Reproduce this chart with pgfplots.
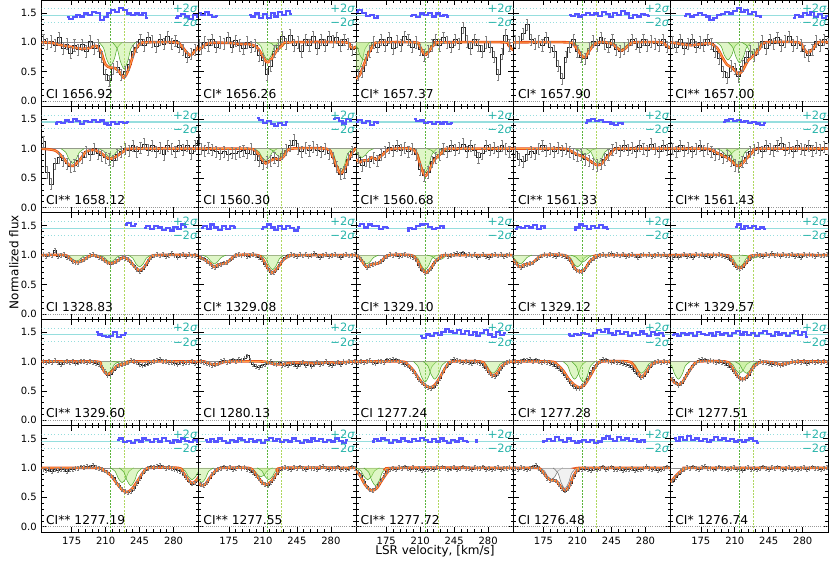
\documentclass[border=0pt]{standalone}
\usepackage{fontspec}
\setmainfont{DejaVu Sans}
\usepackage{pgfplots}
\usepackage{pgfplotstable}
\pgfplotsset{compat=1.18}

\definecolor{orgE}{RGB}{230,75,25}
\definecolor{orgC}{RGB}{255,160,70}
\definecolor{compF}{RGB}{185,235,130}
\definecolor{compD}{RGB}{80,170,45}
\definecolor{resb}{RGB}{85,85,255}
\definecolor{sigl}{RGB}{150,222,222}
\definecolor{sigt}{RGB}{40,180,170}
\definecolor{vgA}{RGB}{90,180,60}
\definecolor{vgB}{RGB}{175,215,95}

% error bars drawn as a plot mark (one short path per point)
\pgfdeclareplotmark{ebA}{%
  \pgfpathmoveto{\pgfqpoint{0pt}{-4.2pt}}\pgfpathlineto{\pgfqpoint{0pt}{4.2pt}}%
  \pgfpathmoveto{\pgfqpoint{-0.8pt}{4.2pt}}\pgfpathlineto{\pgfqpoint{0.8pt}{4.2pt}}%
  \pgfpathmoveto{\pgfqpoint{-0.8pt}{-4.2pt}}\pgfpathlineto{\pgfqpoint{0.8pt}{-4.2pt}}%
  \pgfusepathqstroke}
\pgfdeclareplotmark{ebB}{%
  \pgfpathmoveto{\pgfqpoint{0pt}{-1.4pt}}\pgfpathlineto{\pgfqpoint{0pt}{1.4pt}}%
  \pgfpathmoveto{\pgfqpoint{-0.7pt}{1.4pt}}\pgfpathlineto{\pgfqpoint{0.7pt}{1.4pt}}%
  \pgfpathmoveto{\pgfqpoint{-0.7pt}{-1.4pt}}\pgfpathlineto{\pgfqpoint{0.7pt}{-1.4pt}}%
  \pgfusepathqstroke}

\pgfplotsset{
  pan/.style={width=117.975pt, height=79.8pt, scale only axis, anchor=north west,
    xmin=144, xmax=306, ymin=-0.09, ymax=1.72,
    xtick={175,210,245,280}, ytick={0,0.5,1,1.5},
    minor x tick num=4, minor y tick num=4,
    tick align=inside, major tick length=4pt, minor tick length=2pt,
    every tick/.style={black, line width=0.45pt},
    xticklabels={}, yticklabels={},
    axis line style={line width=0.6pt},
    tick label style={font=\fontsize{7.5}{8}\selectfont},
    unbounded coords=jump},
  lft/.style={yticklabels={0.0,0.5,1.0,1.5}},
  bot/.style={xticklabels={175,210,245,280}},
}

\newcommand{\spc}[3]{%
  \addplot[only marks, mark=#3, mark options={black!50, line width=0.35pt}] table[x=v,y=#2] {#1};
  \addplot[const plot mark mid, black!85, line width=0.45pt] table[x=v,y=#2] {#1};}
\newcommand{\deco}{%
  \addplot[black!40, densely dotted, line width=0.6pt] coordinates {(140,0)(310,0)};
  \addplot[sigl, dotted, line width=0.5pt] coordinates {(140,1.57)(310,1.57)};
  \addplot[sigl, line width=0.8pt] coordinates {(140,1.455)(310,1.455)};
  \addplot[sigl, dotted, line width=0.5pt] coordinates {(140,1.34)(310,1.34)};
  \addplot[vgA, line width=0.45pt, dash pattern=on 1.5pt off 1pt] coordinates {(215,-0.2)(215,1.8)};
  \addplot[vgB, line width=0.45pt, dash pattern=on 1.5pt off 1pt] coordinates {(229,-0.2)(229,1.8)};
  \addplot[black!45, line width=0.6pt] coordinates {(140,1)(310,1)};
}
\newcommand{\comp}[1]{\addplot[draw=compD, fill=compF, fill opacity=0.45, line width=0.4pt, smooth] coordinates {#1};}
\newcommand{\gcomp}[1]{\addplot[draw=black!55, fill=black!12, fill opacity=0.45, line width=0.4pt, smooth] coordinates {#1};}
\newcommand{\mdl}[1]{\addplot[orgE, line width=1.9pt, smooth] coordinates {#1};
  \addplot[orgC, line width=0.7pt, smooth] coordinates {#1};}
\newcommand{\resid}[1]{\addplot[resb, line width=1.6pt, const plot mark mid] coordinates {#1};}
\newcommand{\lab}[1]{%
  \node[anchor=base west, font=\fontsize{9.2}{10}\selectfont, inner sep=0pt] at (axis cs:148.5,0.045) {#1};
  \node[anchor=east, text=sigt, font=\fontsize{8.6}{9}\selectfont, inner sep=0pt] at (axis cs:305,1.575) {+2\textit{σ}};
  \node[anchor=east, text=sigt, font=\fontsize{8.6}{9}\selectfont, inner sep=0pt] at (axis cs:305,1.335) {−2\textit{σ}};
}

\pgfplotstableread{
v    a     b     c     d     e
146 1.05 0.90 0.45 1.02 1.00
150 0.98 1.00 0.50 1.00 0.92
154 1.02 0.95 0.70 1.15 1.05
158 0.95 1.05 0.85 1.30 0.90
162 1.08 0.92 1.00 1.05 0.98
166 0.90 1.00 0.92 0.98 1.05
170 0.97 0.98 1.05 1.02 0.92
174 0.82 1.08 0.95 0.95 1.00
178 0.95 0.92 1.08 1.08 0.95
182 0.88 1.03 0.90 0.92 1.05
186 0.96 0.95 1.02 0.85 0.98
190 0.85 0.90 0.95 0.60 0.85
194 1.02 1.00 1.10 0.38 0.72
198 0.90 0.92 1.05 0.75 0.50
202 0.95 0.95 0.92 0.92 0.40
206 0.75 0.78 1.00 1.05 0.60
210 0.45 0.70 0.88 0.85 0.55
214 0.35 0.45 0.78 0.75 0.42
218 0.55 0.60 0.85 0.72 0.60
222 0.58 0.85 0.95 0.90 0.75
226 0.45 0.95 1.05 1.02 0.85
230 0.50 1.10 0.95 0.95 0.78
234 0.62 0.98 1.08 1.08 0.90
238 0.85 1.12 1.00 0.98 1.02
242 0.92 0.95 0.92 0.92 0.90
246 1.05 1.00 1.05 1.05 1.05
250 0.95 0.85 0.98 0.88 0.98
254 1.08 1.05 1.25 0.85 1.08
258 1.02 0.95 1.02 0.90 0.95
262 0.93 1.10 0.90 0.95 1.02
266 1.05 0.90 1.05 1.05 1.10
270 0.97 1.05 0.95 0.98 0.95
274 1.10 0.95 0.85 0.92 1.00
278 0.98 1.10 1.00 1.05 0.95
282 1.03 1.02 0.92 0.95 0.85
286 0.92 1.08 0.75 1.02 0.78
290 0.88 0.95 0.45 0.98 0.88
294 0.75 1.05 0.80 0.95 1.02
298 0.80 0.98 1.12 1.05 0.95
302 0.88 0.88 0.95 0.92 1.05
306 0.95 0.93 0.90 0.90 0.98
}\rA

\pgfplotstableread{
v    a     b     c     d     e
146 1.12 1.00 0.85 0.95 1.00
150 0.60 0.97 0.72 0.82 0.95
154 0.40 1.02 0.80 0.78 1.05
158 0.75 0.98 0.78 0.90 0.97
162 0.85 0.95 0.85 0.95 1.02
166 0.80 0.92 0.80 0.92 0.95
170 0.75 0.95 0.90 1.00 1.00
174 0.70 0.90 0.95 1.05 1.05
178 0.72 0.93 1.02 0.97 0.97
182 0.80 0.92 0.97 1.00 1.00
186 0.85 0.95 1.05 0.95 0.95
190 0.95 0.97 0.98 1.02 0.90
194 0.90 0.93 1.02 0.97 0.92
198 1.00 1.00 0.95 1.00 0.85
202 0.92 0.90 1.00 0.95 0.88
206 0.88 0.80 0.90 0.92 0.80
210 0.85 0.75 0.65 0.88 0.72
214 0.82 0.78 0.55 0.90 0.70
218 0.80 0.80 0.60 0.82 0.78
222 0.90 0.85 0.78 0.80 0.85
226 0.95 0.80 0.85 0.75 0.95
230 1.00 0.92 0.90 0.72 0.98
234 0.97 0.98 1.00 0.75 1.02
238 1.05 1.05 0.95 0.82 0.95
242 0.95 1.15 1.05 0.90 1.05
246 1.02 1.00 0.98 0.98 1.00
250 1.08 0.95 1.02 1.02 0.97
254 0.98 1.02 1.08 0.97 1.05
258 1.05 0.97 0.95 1.05 1.10
262 0.95 1.03 1.05 0.98 0.98
266 1.02 0.98 0.98 1.02 1.02
270 0.90 0.95 0.85 0.95 0.95
274 1.05 1.00 0.92 1.05 1.05
278 1.00 0.92 1.05 1.00 1.00
282 0.95 0.85 0.98 0.97 0.98
286 1.05 0.70 1.02 1.08 1.05
290 0.98 0.57 0.95 1.00 0.97
294 1.05 0.60 1.05 0.95 1.02
298 0.92 0.82 1.00 1.05 0.98
302 1.05 0.95 0.95 0.98 1.03
306 1.15 1.02 1.02 1.02 1.00
}\rB

\pgfplotstableread{
v a b c d e
146 1.01 0.96 0.98 0.88 0.97
149 0.98 0.94 0.93 0.82 1.00
152 1.02 0.90 0.86 0.80 0.96
155 0.99 0.86 0.80 0.83 0.99
158 1.08 0.81 0.83 0.85 1.02
161 0.98 0.80 0.85 0.86 0.98
164 1.00 0.83 0.86 0.87 1.00
167 1.02 0.85 0.87 0.92 0.97
170 0.97 0.87 0.90 0.96 1.01
173 0.94 0.88 0.95 0.99 0.99
176 0.90 0.92 0.98 1.01 1.02
179 0.88 0.96 1.01 0.99 0.98
182 0.87 1.00 0.99 1.02 1.00
185 0.91 1.02 1.02 1.00 0.97
188 0.93 0.99 0.98 0.98 1.01
191 0.96 1.01 1.00 1.01 0.99
194 1.00 0.98 1.01 0.99 1.02
197 1.02 1.00 0.99 0.98 1.00
200 0.99 1.02 0.98 0.95 0.98
203 0.97 0.99 0.96 0.90 0.96
206 0.95 0.97 0.92 0.80 0.92
209 0.91 0.93 0.83 0.74 0.85
212 0.87 0.85 0.75 0.72 0.80
215 0.85 0.77 0.70 0.73 0.77
218 0.87 0.71 0.72 0.77 0.80
221 0.90 0.70 0.78 0.85 0.86
224 0.93 0.76 0.86 0.91 0.92
227 0.96 0.84 0.92 0.95 0.97
230 0.95 0.91 0.96 0.98 0.99
233 0.93 0.96 0.99 1.00 1.02
236 0.88 0.99 1.01 1.02 1.00
239 0.82 1.01 0.98 0.99 0.98
242 0.76 1.00 1.00 1.01 1.01
245 0.73 0.98 1.02 1.03 0.99
248 0.76 1.02 1.03 1.00 1.03
251 0.82 0.99 1.01 1.02 1.00
254 0.90 1.01 1.04 0.99 1.02
257 0.96 0.98 1.00 1.01 0.98
260 0.99 1.00 1.02 0.98 1.01
263 1.02 1.03 0.99 1.00 0.99
266 0.99 0.99 1.01 1.02 1.00
269 1.01 0.97 0.97 0.99 1.02
272 0.98 1.00 0.99 0.97 0.98
275 1.00 1.02 1.01 1.00 1.00
278 1.03 0.98 0.98 1.02 0.97
281 0.99 1.00 0.96 0.99 1.01
284 0.97 1.01 1.00 1.01 0.99
287 1.00 0.99 1.02 0.98 1.02
290 1.02 0.97 0.99 1.00 1.00
293 0.98 1.00 1.01 1.02 0.98
296 1.01 1.02 0.98 0.99 1.01
299 0.99 0.99 1.00 1.01 0.99
302 1.00 1.00 1.02 0.98 1.00
305 0.98 1.01 0.99 1.00 1.02
}\rC

\pgfplotstableread{
v a b c d e
146 1.00 1.00 0.99 1.00 0.70
149 0.98 0.98 1.01 0.98 0.64
152 1.01 0.97 0.98 1.01 0.60
155 0.99 0.95 1.00 1.03 0.63
158 1.02 0.94 1.02 1.02 0.70
161 0.98 0.96 0.99 1.04 0.78
164 0.96 0.97 0.97 1.01 0.86
167 0.99 1.00 1.00 1.03 0.93
170 1.01 1.02 1.01 1.00 0.98
173 0.98 0.99 0.99 0.98 1.02
176 1.00 1.01 1.03 1.00 1.04
179 0.97 1.03 1.02 0.99 1.03
182 0.99 1.00 1.04 0.97 1.01
185 1.01 1.04 1.03 0.95 1.02
188 1.00 1.02 1.01 0.92 1.00
191 0.98 1.06 0.98 0.88 0.98
194 1.00 1.10 0.96 0.83 1.00
197 0.99 1.02 0.93 0.76 0.99
200 0.97 0.95 0.89 0.69 0.97
203 0.95 0.92 0.84 0.63 0.94
206 0.90 0.90 0.77 0.58 0.90
209 0.83 0.93 0.70 0.55 0.84
212 0.77 0.96 0.64 0.54 0.77
215 0.79 0.98 0.60 0.58 0.72
218 0.85 1.00 0.56 0.64 0.70
221 0.90 0.97 0.54 0.72 0.72
224 0.94 0.95 0.57 0.82 0.77
227 0.96 0.98 0.63 0.90 0.85
230 0.97 0.94 0.72 0.96 0.92
233 0.99 0.96 0.82 1.00 0.97
236 1.02 0.93 0.90 1.04 1.00
239 1.01 0.97 0.96 1.03 0.99
242 0.98 0.95 1.00 1.01 0.98
245 0.96 0.92 1.04 0.99 0.97
248 0.94 0.96 1.02 1.00 0.96
251 0.95 0.99 1.00 0.98 0.97
254 0.97 0.94 0.98 0.99 0.95
257 0.99 0.97 1.01 0.97 0.94
260 1.00 0.92 0.99 0.95 0.96
263 1.02 0.96 0.97 0.93 0.97
266 1.04 0.99 1.00 0.90 0.98
269 1.01 0.95 0.98 0.84 1.00
272 1.00 0.97 0.97 0.78 0.99
275 0.98 1.00 0.94 0.73 1.01
278 0.99 0.96 0.89 0.75 0.98
281 0.97 0.94 0.82 0.82 1.00
284 0.96 0.97 0.76 0.90 0.97
287 0.98 0.99 0.75 0.96 0.99
290 0.97 0.96 0.80 0.99 1.01
293 0.99 1.00 0.89 1.00 0.98
296 0.98 0.98 0.95 0.98 1.00
299 1.00 1.01 0.99 1.01 0.99
302 0.97 0.99 1.01 0.99 1.01
305 0.99 1.00 1.00 1.00 0.99
}\rD

\pgfplotstableread{
v a b c d e
146 0.97 0.72 0.93 1.00 0.78
149 0.96 0.70 0.87 0.98 0.84
152 0.98 0.75 0.77 1.01 0.90
155 0.95 0.83 0.68 0.99 0.95
158 0.97 0.90 0.63 0.97 0.98
161 0.96 0.95 0.62 1.00 1.01
164 0.98 0.98 0.65 1.02 0.99
167 0.97 1.00 0.72 1.04 1.02
170 0.95 1.02 0.80 1.00 1.00
173 0.97 0.99 0.88 0.95 0.98
176 0.98 1.01 0.94 0.89 1.01
179 0.99 0.98 0.98 0.83 1.03
182 1.00 1.00 1.00 0.79 0.99
185 1.02 1.02 0.98 0.80 1.00
188 1.01 0.99 1.01 0.78 0.97
191 1.03 1.01 0.99 0.72 1.00
194 1.02 0.98 1.02 0.65 1.02
197 1.04 0.96 1.00 0.61 0.99
200 1.01 0.93 0.98 0.65 1.00
203 1.00 0.88 1.01 0.74 0.97
206 0.98 0.82 0.97 0.86 0.99
209 0.96 0.76 0.99 0.94 1.01
212 0.93 0.72 0.96 0.98 0.98
215 0.88 0.71 0.98 0.97 1.00
218 0.84 0.75 0.97 1.00 0.96
221 0.76 0.82 1.00 0.98 0.99
224 0.70 0.90 0.98 0.96 1.01
227 0.64 0.96 1.01 0.99 0.98
230 0.60 0.99 0.99 0.97 1.00
233 0.58 1.01 1.02 1.00 0.97
236 0.60 1.00 1.00 1.02 0.99
239 0.66 0.98 0.97 0.98 1.02
242 0.74 1.01 0.99 0.99 1.00
245 0.83 0.99 1.01 1.02 0.98
248 0.91 1.02 0.98 0.98 1.01
251 0.96 1.00 1.00 0.97 0.99
254 0.99 0.98 1.02 0.99 1.02
257 1.02 1.01 0.99 0.96 1.00
260 1.01 0.99 1.00 0.98 0.97
263 1.03 1.00 0.98 0.97 0.99
266 1.05 0.98 1.01 0.99 1.01
269 1.02 1.01 0.99 0.96 0.98
272 1.00 1.03 1.00 0.98 1.00
275 1.01 1.00 1.02 0.97 0.97
278 0.99 0.98 0.98 0.99 0.99
281 0.98 1.00 1.00 1.03 1.01
284 0.96 0.99 0.97 1.00 0.98
287 0.94 1.02 0.99 0.97 1.00
290 0.90 0.98 1.01 0.99 1.02
293 0.84 1.00 0.98 0.96 0.99
296 0.78 0.97 1.00 0.98 1.00
299 0.73 1.00 0.99 1.00 0.97
302 0.75 1.02 1.01 1.02 1.00
305 0.80 1.00 0.98 0.99 1.01
}\rE

\begin{document}
\begin{tikzpicture}
\useasboundingbox (0,0) rectangle (622.5pt,420.75pt);

% ---------------- row 1
\begin{axis}[pan, lft, at={(31.125pt,420.75pt)}]
\deco
\spc{\rA}{a}{ebA}
\comp{(203,1)(208,0.9)(211,0.72)(215,0.6)(219,0.72)(222,0.9)(227,1)}
\comp{(217,1)(222,0.89)(225,0.69)(229,0.55)(233,0.69)(236,0.89)(241,1)}
\mdl{(144,1)(155,0.99)(165,0.95)(175,0.92)(185,0.89)(193,0.9)(200,0.94)(205,0.85)(210,0.62)(215,0.57)(220,0.56)(225,0.48)(229,0.40)(234,0.55)(240,0.85)(246,0.98)(252,1)(282,1)(287,0.96)(292,0.86)(297,0.78)(302,0.85)(306,0.93)}
\resid{(170,1.43)(174,1.40)(178,1.43)(182,1.46)(186,1.44)(190,1.49)(194,1.47)(198,1.52)(202,1.50)(206,1.38)(210,1.43)(214,1.50)(218,1.55)(222,1.52)(226,1.58)(230,1.55)(234,1.49)(238,1.46)(242,1.49)(246,1.46)(250,1.50)(254,1.42)(262,nan)(282,1.41)(286,1.45)(290,1.48)(294,1.44)(298,1.40)(302,1.46)(306,1.43)}
\lab{CI 1656.92}
\end{axis}

\begin{axis}[pan, at={(149.1pt,420.75pt)}]
\deco
\spc{\rA}{b}{ebA}
\comp{(203,1)(208,0.93)(211,0.79)(215,0.7)(219,0.79)(222,0.93)(227,1)}
\comp{(214,1)(219,0.98)(222,0.93)(226,0.9)(230,0.93)(233,0.98)(238,1)}
\mdl{(144,0.87)(150,0.95)(156,0.99)(175,0.99)(185,0.97)(195,0.97)(203,0.93)(208,0.82)(212,0.7)(215,0.66)(219,0.72)(224,0.85)(230,0.95)(236,1)(294,1)(299,0.94)(303,0.9)(306,0.93)}
\resid{(144,1.50)(148,1.46)(152,1.52)(156,1.47)(160,1.43)(164,1.45)(170,nan)(196,1.47)(200,1.44)(204,1.49)(208,1.42)(212,1.48)(216,1.42)(220,1.50)(224,1.44)(228,1.52)(232,1.46)(236,1.54)(240,1.48)}
\lab{CI* 1656.26}
\end{axis}

\begin{axis}[pan, at={(267.075pt,420.75pt)}]
\deco
\spc{\rA}{c}{ebA}
\comp{(134,1)(139,0.88)(142,0.66)(146,0.52)(150,0.66)(153,0.88)(158,1)}
\comp{(140,1)(145,0.92)(148,0.78)(152,0.7)(156,0.78)(159,0.92)(164,1)}
\comp{(203,1)(208,0.95)(211,0.86)(215,0.8)(219,0.86)(222,0.95)(227,1)}
\mdl{(144,0.38)(148,0.45)(152,0.62)(157,0.82)(162,0.95)(167,1)(205,1)(209,0.95)(212,0.85)(215,0.79)(218,0.82)(222,0.92)(227,0.99)(232,1)(296,1)(301,0.95)(304,0.89)(306,0.87)}
\resid{(144,1.52)(148,1.55)(152,1.50)(156,1.45)(160,1.47)(164,1.42)(168,1.45)(172,nan)(200,1.45)(204,1.47)(208,1.43)(212,1.49)(216,1.46)(220,1.50)(224,1.44)(228,1.49)(232,1.45)(236,1.47)(240,1.44)}
\lab{CI* 1657.37}
\end{axis}

\begin{axis}[pan, at={(385.05pt,420.75pt)}]
\deco
\spc{\rA}{d}{ebA}
\comp{(205,1)(210,0.94)(213,0.825)(217,0.75)(221,0.825)(224,0.94)(229,1)}
\comp{(243,1)(248,0.97)(251,0.92)(255,0.88)(259,0.92)(262,0.97)(267,1)}
\mdl{(144,1)(200,1)(206,0.96)(211,0.85)(215,0.76)(218,0.75)(222,0.85)(227,0.96)(232,1)(240,1)(246,0.97)(251,0.9)(255,0.86)(259,0.89)(264,0.97)(269,1)(296,1)(301,0.95)(306,0.9)}
\resid{(201,1.47)(205,1.45)(209,1.48)(213,1.44)(217,1.47)(221,1.50)(225,1.46)(229,1.49)(233,1.45)(237,1.52)(241,1.48)(245,1.43)(249,1.50)(253,1.46)(257,1.53)(261,1.49)(265,1.42)(269,1.47)(273,1.44)(277,1.48)(281,1.46)(285,1.45)}
\lab{CI* 1657.90}
\end{axis}

\begin{axis}[pan, at={(503.025pt,420.75pt)}]
\deco
\spc{\rA}{e}{ebA}
\comp{(191,1)(196,0.93)(199,0.79)(203,0.7)(207,0.79)(210,0.93)(215,1)}
\comp{(203,1)(208,0.91)(211,0.76)(215,0.65)(219,0.76)(222,0.91)(227,1)}
\comp{(217,1)(222,0.95)(225,0.86)(229,0.8)(233,0.86)(236,0.95)(241,1)}
\mdl{(144,1)(155,0.97)(165,0.95)(175,0.97)(185,0.98)(192,0.9)(197,0.75)(202,0.62)(207,0.57)(211,0.5)(214,0.46)(218,0.52)(224,0.7)(230,0.78)(236,0.9)(242,1)(275,1)(280,0.92)(285,0.82)(290,0.88)(296,1)(306,1)}
\resid{(158,1.45)(162,1.48)(166,1.44)(170,1.46)(174,1.50)(178,1.47)(182,1.44)(186,1.38)(190,1.42)(194,1.46)(198,1.48)(202,1.51)(206,1.49)(210,1.54)(214,1.58)(218,1.52)(222,1.55)(226,1.48)(230,1.52)(234,1.45)(238,1.44)(250,nan)(270,1.42)(274,1.46)(278,1.44)(282,1.50)(286,1.47)(290,1.51)(294,1.43)(298,1.48)(302,1.42)(306,1.45)}
\lab{CI** 1657.00}
\end{axis}

% ---------------- row 2
\begin{axis}[pan, lft, at={(31.125pt,340.95pt)}]
\deco
\spc{\rB}{a}{ebA}
\comp{(164,1)(169,0.94)(172,0.83)(176,0.75)(180,0.83)(183,0.94)(188,1)}
\comp{(203,1)(208,0.96)(211,0.9)(215,0.85)(219,0.9)(222,0.96)(227,1)}
\mdl{(144,1)(158,0.97)(166,0.85)(172,0.73)(177,0.71)(183,0.8)(190,0.95)(198,0.98)(205,0.93)(211,0.85)(216,0.83)(222,0.88)(230,0.97)(237,1)(306,1)}
\resid{(158,1.43)(162,1.46)(166,1.44)(170,1.48)(174,1.45)(178,1.50)(182,1.47)(186,1.42)(190,1.47)(194,1.45)(198,1.49)(202,1.46)(206,1.48)(210,1.43)(214,1.40)(218,1.46)(222,1.42)(226,1.45)(230,1.44)(234,1.45)}
\lab{CI** 1658.12}
\end{axis}

\begin{axis}[pan, at={(149.1pt,340.95pt)}]
\deco
\spc{\rB}{b}{ebA}
\comp{(201,1)(206,0.95)(209,0.86)(213,0.8)(217,0.86)(220,0.95)(225,1)}
\comp{(216,1)(221,0.96)(224,0.9)(228,0.85)(232,0.9)(235,0.96)(240,1)}
\comp{(278,1)(283,0.9)(286,0.72)(290,0.6)(294,0.72)(297,0.9)(302,1)}
\mdl{(144,1)(195,1)(203,0.95)(209,0.82)(213,0.75)(218,0.8)(223,0.83)(228,0.82)(233,0.9)(239,1)(275,1)(281,0.9)(286,0.7)(290,0.58)(294,0.65)(299,0.85)(304,0.98)(306,1)}
\resid{(204,1.52)(208,1.49)(212,1.44)(216,1.47)(220,1.42)(224,1.38)(228,1.44)(232,1.40)(236,1.45)(250,nan)(282,1.50)(286,1.52)(290,1.47)(294,1.43)(298,1.50)(302,1.48)}
\lab{CI 1560.30}
\end{axis}

\begin{axis}[pan, at={(267.075pt,340.95pt)}]
\deco
\spc{\rB}{c}{ebA}
\comp{(138,1)(143,0.96)(146,0.9)(150,0.85)(154,0.9)(157,0.96)(162,1)}
\comp{(203,1)(208,0.9)(211,0.72)(215,0.6)(219,0.72)(222,0.9)(227,1)}
\comp{(217,1)(222,0.97)(225,0.92)(229,0.88)(233,0.92)(236,0.97)(241,1)}
\mdl{(144,0.82)(148,0.77)(152,0.8)(156,0.8)(160,0.85)(165,0.82)(170,0.88)(176,0.97)(182,1)(200,1)(206,0.93)(211,0.68)(215,0.54)(219,0.62)(224,0.8)(229,0.88)(234,0.96)(240,1)(306,1)}
\resid{(144,1.46)(148,1.49)(152,1.44)(156,1.47)(160,1.41)(164,1.45)(168,1.44)(180,nan)(204,1.50)(208,1.47)(212,1.48)(216,1.44)(220,1.46)(224,1.42)(228,1.45)(232,1.43)(236,1.46)(240,1.42)(244,1.44)}
\lab{CI* 1560.68}
\end{axis}

\begin{axis}[pan, at={(385.05pt,340.95pt)}]
\deco
\spc{\rB}{d}{ebA}
\comp{(206,1)(211,0.98)(214,0.93)(218,0.9)(222,0.93)(225,0.98)(230,1)}
\comp{(219,1)(224,0.94)(227,0.83)(231,0.75)(235,0.83)(238,0.94)(243,1)}
\mdl{(144,1)(195,1)(202,0.97)(210,0.9)(218,0.85)(224,0.78)(230,0.72)(234,0.73)(240,0.85)(246,0.95)(252,1)(306,1)}
\resid{(218,1.44)(222,1.48)(226,1.51)(230,1.47)(234,1.49)(238,1.45)(242,1.46)(246,1.43)(250,1.41)(254,1.44)(258,1.43)}
\lab{CI** 1561.33}
\end{axis}

\begin{axis}[pan, at={(503.025pt,340.95pt)}]
\deco
\spc{\rB}{e}{ebA}
\comp{(191,1)(196,0.97)(199,0.92)(203,0.88)(207,0.92)(210,0.97)(215,1)}
\comp{(201,1)(206,0.93)(209,0.8)(213,0.72)(217,0.8)(220,0.93)(225,1)}
\mdl{(144,1)(180,1)(187,0.97)(195,0.9)(203,0.84)(208,0.77)(212,0.71)(216,0.72)(222,0.83)(229,0.95)(236,1)(306,1)}
\resid{(198,1.45)(202,1.48)(206,1.50)(210,1.47)(214,1.49)(218,1.45)(222,1.47)(226,1.44)(230,1.46)(234,1.43)(238,1.41)(242,1.44)}
\lab{CI** 1561.43}
\end{axis}

% ---------------- row 3
\begin{axis}[pan, lft, at={(31.125pt,261.15pt)}]
\deco
\spc{\rC}{a}{ebB}
\comp{(168,1)(173,0.98)(176,0.93)(180,0.9)(184,0.93)(187,0.98)(192,1)}
\comp{(203,1)(208,0.97)(211,0.92)(215,0.88)(219,0.92)(222,0.97)(227,1)}
\comp{(233,1)(238,0.95)(241,0.86)(245,0.8)(249,0.86)(252,0.95)(257,1)}
\mdl{(144,1)(168,1)(174,0.93)(180,0.88)(186,0.9)(192,0.97)(198,1)(205,0.96)(211,0.88)(216,0.86)(222,0.9)(228,0.96)(234,0.92)(240,0.8)(245,0.74)(250,0.8)(256,0.95)(262,1)(306,1)}
\resid{(230,1.52)(234,1.55)(238,1.50)(242,1.53)(246,nan)(250,1.46)(254,1.49)(258,1.45)(262,1.50)(266,1.47)(270,1.43)(274,1.46)(278,1.42)(282,1.48)(286,1.44)(290,1.52)(294,1.48)}
\lab{CI 1328.83}
\end{axis}

\begin{axis}[pan, at={(149.1pt,261.15pt)}]
\deco
\spc{\rC}{b}{ebB}
\comp{(148,1)(153,0.96)(156,0.9)(160,0.85)(164,0.9)(167,0.96)(172,1)}
\comp{(208,1)(213,0.94)(216,0.83)(220,0.75)(224,0.83)(227,0.94)(232,1)}
\mdl{(144,0.97)(152,0.9)(157,0.84)(160,0.8)(164,0.84)(168,0.85)(172,0.86)(177,0.93)(183,1)(204,1)(210,0.93)(215,0.78)(220,0.7)(225,0.78)(231,0.92)(237,0.98)(242,1)(306,1)}
\resid{(146,1.46)(150,1.50)(154,1.44)(158,1.52)(162,1.47)(166,1.43)(170,1.49)(174,1.45)(178,1.50)(182,1.47)(190,nan)(208,1.44)(212,1.48)(216,1.52)(220,1.47)(224,1.43)(228,1.49)(232,1.45)(236,1.50)(240,1.46)(244,1.42)(248,1.47)}
\lab{CI* 1329.08}
\end{axis}

\begin{axis}[pan, at={(267.075pt,261.15pt)}]
\deco
\spc{\rC}{c}{ebB}
\comp{(143,1)(148,0.96)(151,0.9)(155,0.85)(159,0.9)(162,0.96)(167,1)}
\comp{(203,1)(208,0.94)(211,0.83)(215,0.75)(219,0.83)(222,0.94)(227,1)}
\comp{(217,1)(222,0.98)(225,0.94)(229,0.92)(233,0.94)(236,0.98)(241,1)}
\mdl{(144,1)(148,0.95)(152,0.85)(155,0.8)(159,0.84)(163,0.85)(167,0.86)(172,0.93)(178,1)(200,1)(206,0.93)(211,0.78)(216,0.7)(221,0.78)(227,0.92)(233,0.98)(238,1)(306,1)}
\resid{(146,1.50)(150,1.53)(154,1.47)(158,1.52)(162,1.49)(166,1.50)(170,1.44)(174,1.48)(178,1.46)(186,nan)(196,1.42)(200,1.46)(204,1.45)(208,1.50)(212,1.52)(216,1.53)(220,1.48)(224,1.44)(228,1.46)(232,1.50)(236,1.47)}
\lab{CI* 1329.10}
\end{axis}

\begin{axis}[pan, at={(385.05pt,261.15pt)}]
\deco
\spc{\rC}{d}{ebB}
\comp{(139,1)(144,0.96)(147,0.9)(151,0.85)(155,0.9)(158,0.96)(163,1)}
\comp{(198,1)(203,0.95)(206,0.86)(210,0.8)(214,0.86)(217,0.95)(222,1)}
\comp{(203,1)(208,0.97)(211,0.92)(215,0.88)(219,0.92)(222,0.97)(227,1)}
\mdl{(144,0.92)(148,0.84)(151,0.8)(155,0.84)(159,0.85)(163,0.86)(168,0.93)(174,1)(196,1)(202,0.93)(207,0.78)(212,0.72)(217,0.75)(223,0.9)(229,0.97)(234,1)(306,1)}
\resid{(146,1.44)(150,1.48)(154,1.46)(158,1.50)(162,1.47)(166,1.51)(170,1.45)(174,1.49)(178,1.46)(190,nan)(206,1.43)(210,1.47)(214,1.52)(218,1.49)(222,1.45)(226,1.50)(230,1.46)(234,1.51)(238,1.47)(242,1.44)}
\lab{CI* 1329.12}
\end{axis}

\begin{axis}[pan, at={(503.025pt,261.15pt)}]
\deco
\spc{\rC}{e}{ebB}
\comp{(203,1)(208,0.95)(211,0.86)(215,0.8)(219,0.86)(222,0.95)(227,1)}
\comp{(217,1)(222,0.99)(225,0.965)(229,0.95)(233,0.965)(236,0.99)(241,1)}
\mdl{(144,1)(200,1)(206,0.93)(211,0.82)(215,0.78)(219,0.82)(225,0.93)(232,1)(306,1)}
\resid{(210,1.48)(214,1.52)(218,1.45)(222,1.49)(226,1.46)(230,1.50)(234,1.44)(238,1.47)(242,1.45)}
\lab{CI** 1329.57}
\end{axis}

% ---------------- row 4
\begin{axis}[pan, lft, at={(31.125pt,181.35pt)}]
\deco
\spc{\rD}{a}{ebB}
\comp{(200,1)(205,0.95)(208,0.86)(212,0.8)(216,0.86)(219,0.95)(224,1)}
\comp{(217,1)(222,0.99)(225,0.965)(229,0.95)(233,0.965)(236,0.99)(241,1)}
\mdl{(144,1)(200,1)(205,0.93)(209,0.82)(212,0.78)(216,0.82)(222,0.93)(228,0.95)(233,0.98)(238,1)(306,1)}
\resid{(200,1.50)(204,1.46)(208,1.44)(212,1.42)(216,1.43)(220,1.50)(224,1.42)(228,1.45)(232,1.49)}
\lab{CI** 1329.60}
\end{axis}

\begin{axis}[pan, at={(149.1pt,181.35pt)}]
\deco
\spc{\rD}{b}{ebB}
\comp{(203,1)(208,0.99)(211,0.98)(215,0.97)(219,0.98)(222,0.99)(227,1)}
\mdl{(144,1)(150,1)(156,0.96)(162,0.95)(168,0.98)(175,1)(210,1)(218,0.97)(226,0.95)(233,0.96)(240,0.98)(250,0.98)(262,0.97)(275,0.98)(290,0.98)(300,1)(306,1)}
\lab{CI 1280.13}
\end{axis}

\begin{axis}[pan, at={(267.075pt,181.35pt)}]
\deco
\spc{\rD}{c}{ebB}
\comp{(203,1)(208,0.91)(211,0.755)(215,0.65)(219,0.755)(222,0.91)(227,1)}
\comp{(213,1)(218,0.925)(221,0.79)(225,0.7)(229,0.79)(232,0.925)(237,1)}
\comp{(273,1)(278,0.95)(281,0.86)(285,0.8)(289,0.86)(292,0.95)(297,1)}
\mdl{(144,1)(190,1)(197,0.95)(203,0.85)(209,0.7)(215,0.6)(220,0.56)(225,0.6)(231,0.75)(237,0.92)(243,1)(272,1)(277,0.93)(282,0.8)(285,0.76)(289,0.8)(294,0.92)(300,0.99)(306,1)}
\resid{(210,1.43)(214,1.40)(218,1.46)(222,1.44)(226,1.48)(230,1.45)(234,1.50)(238,1.55)(242,1.51)(246,1.49)(250,1.53)(254,1.47)(258,1.52)(262,1.45)(266,1.50)(270,1.44)(274,1.48)(278,1.53)(282,1.46)(286,1.42)(290,1.50)(294,1.45)(298,1.49)}
\lab{CI 1277.24}
\end{axis}

\begin{axis}[pan, at={(385.05pt,181.35pt)}]
\deco
\spc{\rD}{d}{ebB}
\comp{(195,1)(200,0.925)(203,0.79)(207,0.7)(211,0.79)(214,0.925)(219,1)}
\comp{(204,1)(209,0.91)(212,0.755)(216,0.65)(220,0.755)(223,0.91)(228,1)}
\comp{(264,1)(269,0.95)(272,0.86)(276,0.8)(280,0.86)(283,0.95)(288,1)}
\mdl{(144,1)(182,1)(189,0.95)(195,0.85)(201,0.7)(207,0.6)(212,0.56)(217,0.6)(223,0.75)(229,0.92)(235,1)(262,1)(268,0.93)(273,0.8)(276,0.74)(280,0.8)(285,0.92)(291,0.99)(306,1)}
\resid{(200,1.46)(204,1.43)(208,1.47)(212,1.45)(216,1.49)(220,1.47)(224,1.44)(228,1.48)(232,1.53)(236,1.50)(240,1.55)(244,1.48)(248,1.45)(252,1.52)(256,1.47)(260,1.50)(264,1.44)(268,1.49)(272,1.45)(276,1.51)(280,1.47)(284,1.43)(288,1.50)(292,1.46)(296,1.49)(300,1.44)}
\lab{CI* 1277.28}
\end{axis}

\begin{axis}[pan, at={(503.025pt,181.35pt)}]
\deco
\spc{\rD}{e}{ebB}
\comp{(140,1)(145,0.925)(148,0.79)(152,0.7)(156,0.79)(159,0.925)(164,1)}
\comp{(203,1)(208,0.95)(211,0.86)(215,0.8)(219,0.86)(222,0.95)(227,1)}
\comp{(210,1)(215,0.95)(218,0.86)(222,0.8)(226,0.86)(229,0.95)(234,1)}
\mdl{(144,0.72)(148,0.64)(152,0.61)(156,0.65)(161,0.78)(167,0.93)(173,1)(200,1)(206,0.93)(211,0.8)(215,0.72)(219,0.7)(224,0.77)(229,0.9)(235,0.98)(240,1)(250,0.98)(258,0.95)(266,0.98)(275,1)(306,1)}
\resid{(145,1.45)(149,1.47)(153,1.44)(157,1.49)(161,1.46)(165,1.48)(169,1.44)(173,1.50)(177,1.47)(181,1.45)(185,1.48)(189,1.44)(193,1.50)(197,1.46)(201,1.49)(205,1.44)(209,1.48)(213,1.52)(217,1.46)(221,1.50)(225,1.45)(229,1.49)(233,1.44)(237,1.48)(241,1.52)(245,1.47)(249,1.43)(253,1.50)(257,1.46)(261,1.49)(265,1.44)(269,1.48)(273,1.52)(277,1.45)(281,1.50)(285,1.42)}
\lab{CI* 1277.51}
\end{axis}

% ---------------- row 5
\begin{axis}[pan, lft, bot, at={(31.125pt,101.55pt)}]
\deco
\spc{\rE}{a}{ebB}
\comp{(215,1)(220,0.94)(223,0.825)(227,0.75)(231,0.825)(234,0.94)(239,1)}
\comp{(224,1)(229,0.925)(232,0.79)(236,0.7)(240,0.79)(243,0.925)(248,1)}
\comp{(287,1)(292,0.95)(295,0.86)(299,0.8)(303,0.86)(306,0.95)(311,1)}
\mdl{(144,1)(200,1)(208,0.96)(215,0.88)(221,0.75)(227,0.63)(232,0.59)(237,0.64)(243,0.78)(249,0.93)(255,1)(285,1)(290,0.92)(295,0.8)(299,0.74)(303,0.78)(306,0.85)}
\resid{(222,1.47)(226,1.50)(230,1.44)(234,1.46)(238,1.43)(242,1.48)(246,1.45)(250,1.50)(254,1.47)(258,1.44)(262,1.49)(266,1.45)(270,1.51)(274,1.46)(278,1.43)(282,1.48)(286,1.45)(290,1.50)(294,1.46)(298,1.44)(302,1.47)(306,1.45)}
\lab{CI** 1277.19}
\end{axis}

\begin{axis}[pan, bot, at={(149.1pt,101.55pt)}]
\deco
\spc{\rE}{b}{ebB}
\comp{(135,1)(140,0.94)(143,0.825)(147,0.75)(151,0.825)(154,0.94)(159,1)}
\comp{(196,1)(201,0.96)(204,0.895)(208,0.85)(212,0.895)(215,0.96)(220,1)}
\comp{(204,1)(209,0.95)(212,0.86)(216,0.8)(220,0.86)(223,0.95)(228,1)}
\mdl{(144,0.74)(147,0.7)(151,0.73)(156,0.85)(162,0.96)(168,1)(195,1)(201,0.93)(206,0.82)(210,0.74)(214,0.72)(219,0.78)(225,0.92)(231,1)(306,1)}
\resid{(150,1.47)(154,1.44)(158,1.49)(162,1.45)(166,1.50)(170,1.46)(174,1.43)(178,1.48)(182,1.45)(186,1.50)(190,1.47)(194,1.44)(198,1.49)(202,1.45)(206,1.48)(210,1.43)(214,1.47)(218,1.51)(222,1.46)(226,1.49)(230,1.44)(234,1.48)(238,1.45)(242,1.50)(246,1.46)(250,1.43)(254,1.48)(258,1.45)(262,1.50)(266,1.46)(270,1.49)(274,1.44)(278,1.48)(282,1.45)(286,1.50)(290,1.46)(294,1.43)(298,1.47)}
\lab{CI** 1277.55}
\end{axis}

\begin{axis}[pan, bot, at={(267.075pt,101.55pt)}]
\deco
\spc{\rE}{c}{ebB}
\comp{(144,1)(149,0.95)(152,0.86)(156,0.8)(160,0.86)(163,0.95)(168,1)}
\comp{(152,1)(157,0.925)(160,0.79)(164,0.7)(168,0.79)(171,0.925)(176,1)}
\mdl{(144,0.95)(148,0.87)(153,0.72)(158,0.63)(162,0.62)(166,0.67)(171,0.8)(177,0.94)(183,1)(306,1)}
\resid{(160,1.45)(164,1.49)(168,1.46)(172,1.50)(176,1.47)(180,1.43)(184,1.48)(188,1.45)(192,1.50)(196,1.46)(200,1.44)(204,1.49)(208,1.46)(212,1.51)(216,1.47)(220,1.44)(224,1.49)(228,1.45)(232,1.50)(236,1.46)(240,1.43)(244,1.48)(248,1.45)(252,1.50)(256,1.46)(260,1.44)(263,nan)(266,1.47)(270,1.45)}
\lab{CI** 1277.72}
\end{axis}

\begin{axis}[pan, bot, at={(385.05pt,101.55pt)}]
\deco
\spc{\rE}{d}{ebB}
\gcomp{(171,1)(176,0.95)(179,0.86)(183,0.8)(187,0.86)(190,0.95)(195,1)}
\gcomp{(185,1)(190,0.91)(193,0.755)(197,0.65)(201,0.755)(204,0.91)(209,1)}
\mdl{(144,1)(168,1)(173,0.96)(178,0.85)(183,0.79)(188,0.78)(193,0.68)(197,0.62)(201,0.67)(206,0.87)(211,0.98)(216,1)(306,1)}
\resid{(173,1.44)(177,1.46)(181,1.49)(185,1.46)(189,1.52)(193,1.48)(197,1.44)(201,1.50)(205,1.46)(209,1.42)(213,1.45)(217,1.48)(221,1.44)(225,1.47)(229,1.43)(233,1.45)(237,1.50)(241,1.55)(245,1.49)(249,1.46)(253,1.52)(257,1.47)(261,1.50)(265,1.46)(269,1.49)(273,1.45)(277,1.47)(281,1.44)}
\lab{CI 1276.48}
\end{axis}

\begin{axis}[pan, bot, at={(503.025pt,101.55pt)}]
\deco
\spc{\rE}{e}{ebB}
\comp{(203,1)(208,0.995)(211,0.986)(215,0.98)(219,0.986)(222,0.995)(227,1)}
\mdl{(144,0.76)(149,0.86)(154,0.94)(160,0.99)(166,1)(306,1)}
\resid{(147,1.50)(151,1.46)(155,1.52)(159,1.48)(163,1.55)(167,1.47)(171,1.50)(175,1.46)(179,1.49)(183,1.44)(187,1.48)(191,1.53)(195,1.47)(199,1.50)(203,1.46)(207,1.49)(211,1.45)(215,1.48)(219,1.44)(223,1.47)(227,1.50)(231,1.46)(235,1.43)}
\lab{CI* 1276.74}
\end{axis}

\node[rotate=90, font=\fontsize{9}{10}\selectfont] at (10.5pt,224.25pt) {Normalized flux};
\node[font=\fontsize{9}{10}\selectfont] at (326.25pt,7.5pt) {LSR velocity, [km/s]};
\end{tikzpicture}
\end{document}
